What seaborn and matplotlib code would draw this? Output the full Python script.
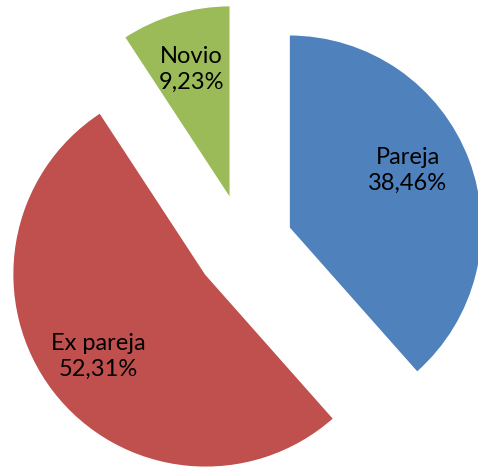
""" exploded pie chart: relacion con el agresor """

import matplotlib
matplotlib.use('Agg')
import matplotlib.pyplot as plt
import seaborn as sns

# ~~~~~~~~~  Data  ~~~~ ~~~~~~ ~~~~~~~~~~~~ ~~~~~~~~~~ ~~~~ ~~~~~ ~~~~~~~~~~ ~ #
categories = ['Pareja', 'Ex pareja', 'Novio']
percentages = [38.46, 52.31, 9.23]
colors = ['#4F81BD', '#C0504D', '#9BBB59']

# ~~~~~~~~~  Plot  ~~~~ ~~~~~~ ~~~~~~~~~~~~ ~~~~~~~~~~ ~~~~ ~~~~~ ~~~~~~~~~~ ~ #
sns.set_style('white')
plt.rcParams['font.family'] = ['Lato', 'DejaVu Sans']

fig = plt.figure(figsize=(4.78, 4.70), dpi=100)
axes = fig.add_axes([0, 0, 1, 1])

wedges, texts, autotexts = axes.pie(
    percentages, colors=colors, startangle=90, counterclock=False,
    explode=[0.25] * len(percentages), autopct='%.2f', pctdistance=0.7,
    textprops={'fontsize': 17, 'color': 'black'})

# label text: name + percentage with a decimal comma
for text, name, pct in zip(autotexts, categories, percentages):
    text.set_text(f'{name}\n{pct:.2f}%'.replace('.', ','))
    text.set_linespacing(1.25)

# Excel puts the first label a bit above the slice bisector
x, y = autotexts[0].get_position()
autotexts[0].set_position((x - 0.04, y + 0.05))

axes.set_aspect('equal')
axes.set_xlim(-1.264, 1.212)   # pie is cut off at the right edge
axes.set_ylim(-1.166, 1.269)
axes.axis('off')

fig.savefig('out.png', dpi=100)
